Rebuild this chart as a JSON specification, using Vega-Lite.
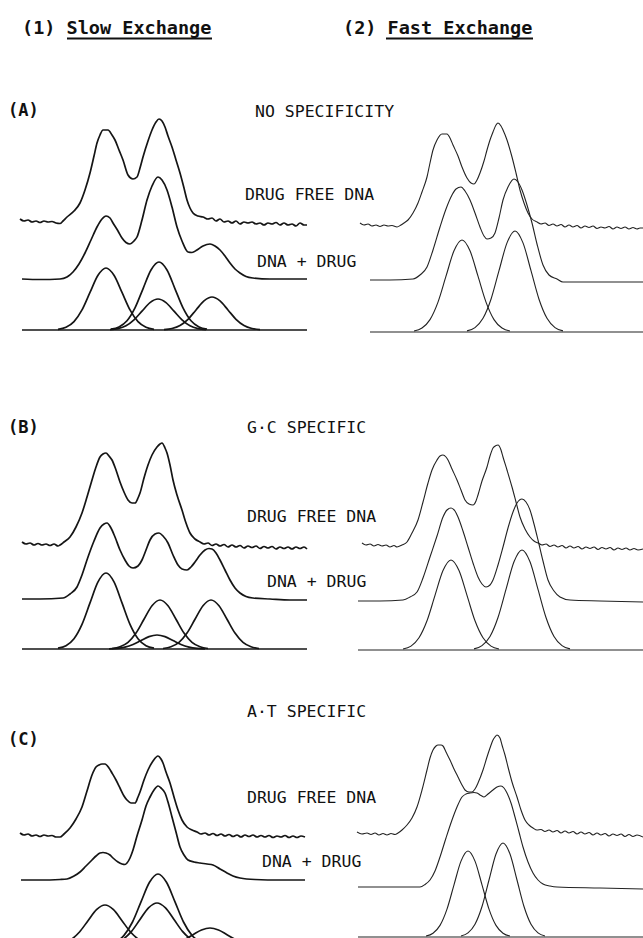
{
"$schema":"https://vega.github.io/schema/vega-lite/v6.json",
"width":643,"height":938,"padding":0,"autosize":{"type":"none"},
"background":"white",
"config":{"view":{"stroke":null}},
"datasets":{
"curves":[
{"curve":"AL1","x":20,"y":219},{"curve":"AL1","x":24,"y":221},{"curve":"AL1","x":28,"y":220},{"curve":"AL1","x":32,"y":222},{"curve":"AL1","x":36,"y":221},{"curve":"AL1","x":40,"y":222.5},{"curve":"AL1","x":44,"y":221},{"curve":"AL1","x":48,"y":222},{"curve":"AL1","x":52,"y":221.5},{"curve":"AL1","x":56,"y":223},{"curve":"AL1","x":60,"y":223.5},{"curve":"AL1","x":63,"y":221},{"curve":"AL1","x":67,"y":217},{"curve":"AL1","x":74,"y":211},{"curve":"AL1","x":80,"y":203},{"curve":"AL1","x":85,"y":190},{"curve":"AL1","x":90,"y":173},{"curve":"AL1","x":94,"y":156},{"curve":"AL1","x":97,"y":143},{"curve":"AL1","x":100,"y":135},{"curve":"AL1","x":103,"y":130},{"curve":"AL1","x":108,"y":130},{"curve":"AL1","x":112,"y":135},{"curve":"AL1","x":115,"y":140},{"curve":"AL1","x":119,"y":150},{"curve":"AL1","x":123,"y":160},{"curve":"AL1","x":128,"y":175},{"curve":"AL1","x":133,"y":179},{"curve":"AL1","x":137,"y":177},{"curve":"AL1","x":140,"y":168},{"curve":"AL1","x":143,"y":157},{"curve":"AL1","x":148,"y":141},{"curve":"AL1","x":152,"y":130},{"curve":"AL1","x":156,"y":122},{"curve":"AL1","x":159,"y":119},{"curve":"AL1","x":162,"y":121},{"curve":"AL1","x":165,"y":127},{"curve":"AL1","x":168,"y":136},{"curve":"AL1","x":172,"y":147},{"curve":"AL1","x":176,"y":160},{"curve":"AL1","x":180,"y":173},{"curve":"AL1","x":184,"y":188},{"curve":"AL1","x":187,"y":200},{"curve":"AL1","x":190,"y":208},{"curve":"AL1","x":193,"y":213},{"curve":"AL1","x":198,"y":216},{"curve":"AL1","x":203,"y":217},{"curve":"AL1","x":208,"y":219},{"curve":"AL1","x":212,"y":218},{"curve":"AL1","x":216,"y":221},{"curve":"AL1","x":220,"y":219},{"curve":"AL1","x":224,"y":222},{"curve":"AL1","x":228,"y":221},{"curve":"AL1","x":232,"y":223},{"curve":"AL1","x":236,"y":221},{"curve":"AL1","x":240,"y":224},{"curve":"AL1","x":244,"y":222},{"curve":"AL1","x":248,"y":223},{"curve":"AL1","x":252,"y":222},{"curve":"AL1","x":256,"y":224},{"curve":"AL1","x":260,"y":223},{"curve":"AL1","x":264,"y":225},{"curve":"AL1","x":268,"y":223},{"curve":"AL1","x":272,"y":224},{"curve":"AL1","x":276,"y":222.5},{"curve":"AL1","x":280,"y":225},{"curve":"AL1","x":284,"y":223},{"curve":"AL1","x":288,"y":225},{"curve":"AL1","x":292,"y":224},{"curve":"AL1","x":296,"y":226},{"curve":"AL1","x":300,"y":223},{"curve":"AL1","x":304,"y":225},{"curve":"AL1","x":307,"y":225},
{"curve":"AL2","x":22,"y":279},{"curve":"AL2","x":40,"y":279.5},{"curve":"AL2","x":60,"y":279},{"curve":"AL2","x":67,"y":277},{"curve":"AL2","x":73,"y":272},{"curve":"AL2","x":79,"y":264},{"curve":"AL2","x":85,"y":253},{"curve":"AL2","x":91,"y":240},{"curve":"AL2","x":97,"y":227},{"curve":"AL2","x":102,"y":219},{"curve":"AL2","x":106,"y":216},{"curve":"AL2","x":110,"y":218},{"curve":"AL2","x":113,"y":223},{"curve":"AL2","x":118,"y":231},{"curve":"AL2","x":122,"y":238},{"curve":"AL2","x":126,"y":242.5},{"curve":"AL2","x":130,"y":244},{"curve":"AL2","x":134,"y":241},{"curve":"AL2","x":137,"y":237},{"curve":"AL2","x":142,"y":220},{"curve":"AL2","x":147,"y":200},{"curve":"AL2","x":152,"y":186},{"curve":"AL2","x":158,"y":177},{"curve":"AL2","x":162,"y":180},{"curve":"AL2","x":167,"y":190},{"curve":"AL2","x":172,"y":207},{"curve":"AL2","x":177,"y":227},{"curve":"AL2","x":182,"y":241},{"curve":"AL2","x":188,"y":252},{"curve":"AL2","x":192,"y":252.5},{"curve":"AL2","x":197,"y":250},{"curve":"AL2","x":203,"y":246},{"curve":"AL2","x":210,"y":244},{"curve":"AL2","x":215,"y":246},{"curve":"AL2","x":220,"y":250},{"curve":"AL2","x":225,"y":256},{"curve":"AL2","x":230,"y":263},{"curve":"AL2","x":235,"y":269},{"curve":"AL2","x":240,"y":273},{"curve":"AL2","x":246,"y":276.5},{"curve":"AL2","x":253,"y":278},{"curve":"AL2","x":270,"y":279},{"curve":"AL2","x":290,"y":279},{"curve":"AL2","x":307,"y":279},
{"curve":"AL0","x":22,"y":330},{"curve":"AL0","x":307,"y":330},
{"curve":"AL3","x":58,"y":329.3},{"curve":"AL3","x":66,"y":327.3},{"curve":"AL3","x":74,"y":321.6},{"curve":"AL3","x":82,"y":309.9},{"curve":"AL3","x":90,"y":292.4},{"curve":"AL3","x":98,"y":275.3},{"curve":"AL3","x":106,"y":268},{"curve":"AL3","x":114,"y":275.3},{"curve":"AL3","x":122,"y":292.4},{"curve":"AL3","x":130,"y":309.9},{"curve":"AL3","x":138,"y":321.6},{"curve":"AL3","x":146,"y":327.3},{"curve":"AL3","x":154,"y":329.3},
{"curve":"AL4","x":111,"y":329.2},{"curve":"AL4","x":119,"y":327},{"curve":"AL4","x":127,"y":320.8},{"curve":"AL4","x":135,"y":307.9},{"curve":"AL4","x":143,"y":288.8},{"curve":"AL4","x":151,"y":270},{"curve":"AL4","x":159,"y":262},{"curve":"AL4","x":167,"y":270},{"curve":"AL4","x":175,"y":288.8},{"curve":"AL4","x":183,"y":307.9},{"curve":"AL4","x":191,"y":320.8},{"curve":"AL4","x":199,"y":327},{"curve":"AL4","x":207,"y":329.2},
{"curve":"AL5","x":110,"y":329.7},{"curve":"AL5","x":118,"y":328.6},{"curve":"AL5","x":126,"y":325.8},{"curve":"AL5","x":134,"y":319.9},{"curve":"AL5","x":142,"y":311.2},{"curve":"AL5","x":150,"y":302.6},{"curve":"AL5","x":158,"y":299},{"curve":"AL5","x":166,"y":302.6},{"curve":"AL5","x":174,"y":311.2},{"curve":"AL5","x":182,"y":319.9},{"curve":"AL5","x":190,"y":325.8},{"curve":"AL5","x":198,"y":328.6},{"curve":"AL5","x":206,"y":329.7},
{"curve":"AL6","x":164,"y":329.6},{"curve":"AL6","x":172,"y":328.5},{"curve":"AL6","x":180,"y":325.5},{"curve":"AL6","x":188,"y":319.3},{"curve":"AL6","x":196,"y":310},{"curve":"AL6","x":204,"y":300.9},{"curve":"AL6","x":212,"y":297},{"curve":"AL6","x":220,"y":300.9},{"curve":"AL6","x":228,"y":310},{"curve":"AL6","x":236,"y":319.3},{"curve":"AL6","x":244,"y":325.5},{"curve":"AL6","x":252,"y":328.5},{"curve":"AL6","x":260,"y":329.6},
{"curve":"AR1","x":360,"y":223},{"curve":"AR1","x":364,"y":225},{"curve":"AR1","x":368,"y":224},{"curve":"AR1","x":372,"y":226},{"curve":"AR1","x":376,"y":225},{"curve":"AR1","x":380,"y":226.5},{"curve":"AR1","x":384,"y":225},{"curve":"AR1","x":388,"y":226},{"curve":"AR1","x":392,"y":225.5},{"curve":"AR1","x":397,"y":227},{"curve":"AR1","x":401,"y":225},{"curve":"AR1","x":404,"y":223},{"curve":"AR1","x":408,"y":220},{"curve":"AR1","x":413,"y":213},{"curve":"AR1","x":418,"y":203},{"curve":"AR1","x":422,"y":192},{"curve":"AR1","x":427,"y":177},{"curve":"AR1","x":430,"y":163},{"curve":"AR1","x":433,"y":150},{"curve":"AR1","x":437,"y":140},{"curve":"AR1","x":442,"y":134},{"curve":"AR1","x":447,"y":134},{"curve":"AR1","x":450,"y":138},{"curve":"AR1","x":453,"y":145},{"curve":"AR1","x":458,"y":156},{"curve":"AR1","x":462,"y":167},{"curve":"AR1","x":467,"y":178},{"curve":"AR1","x":471,"y":183},{"curve":"AR1","x":474,"y":184},{"curve":"AR1","x":477,"y":180},{"curve":"AR1","x":480,"y":173},{"curve":"AR1","x":484,"y":161},{"curve":"AR1","x":487,"y":150},{"curve":"AR1","x":490,"y":140},{"curve":"AR1","x":493,"y":132},{"curve":"AR1","x":496,"y":125},{"curve":"AR1","x":498,"y":123},{"curve":"AR1","x":501,"y":126},{"curve":"AR1","x":503,"y":130},{"curve":"AR1","x":507,"y":140},{"curve":"AR1","x":512,"y":157},{"curve":"AR1","x":516,"y":173},{"curve":"AR1","x":520,"y":190},{"curve":"AR1","x":524,"y":203},{"curve":"AR1","x":528,"y":213},{"curve":"AR1","x":532,"y":219},{"curve":"AR1","x":537,"y":222},{"curve":"AR1","x":541,"y":224},{"curve":"AR1","x":545,"y":223},{"curve":"AR1","x":549,"y":225.5},{"curve":"AR1","x":553,"y":224},{"curve":"AR1","x":557,"y":226},{"curve":"AR1","x":561,"y":224.5},{"curve":"AR1","x":565,"y":227},{"curve":"AR1","x":569,"y":225},{"curve":"AR1","x":573,"y":227},{"curve":"AR1","x":577,"y":225.5},{"curve":"AR1","x":581,"y":228},{"curve":"AR1","x":585,"y":226},{"curve":"AR1","x":589,"y":227.5},{"curve":"AR1","x":593,"y":226},{"curve":"AR1","x":597,"y":228.5},{"curve":"AR1","x":601,"y":227},{"curve":"AR1","x":605,"y":228},{"curve":"AR1","x":609,"y":226.5},{"curve":"AR1","x":613,"y":229},{"curve":"AR1","x":617,"y":227},{"curve":"AR1","x":621,"y":228.5},{"curve":"AR1","x":625,"y":227},{"curve":"AR1","x":629,"y":229},{"curve":"AR1","x":633,"y":227.5},{"curve":"AR1","x":637,"y":229},{"curve":"AR1","x":640,"y":228},{"curve":"AR1","x":643,"y":228},
{"curve":"AR2","x":370,"y":280},{"curve":"AR2","x":390,"y":280},{"curve":"AR2","x":413,"y":279},{"curve":"AR2","x":420,"y":275},{"curve":"AR2","x":427,"y":267},{"curve":"AR2","x":433,"y":250},{"curve":"AR2","x":440,"y":227},{"curve":"AR2","x":446,"y":209},{"curve":"AR2","x":452,"y":195},{"curve":"AR2","x":456,"y":189},{"curve":"AR2","x":461,"y":187},{"curve":"AR2","x":465,"y":191},{"curve":"AR2","x":470,"y":200},{"curve":"AR2","x":475,"y":213},{"curve":"AR2","x":480,"y":227},{"curve":"AR2","x":484,"y":236},{"curve":"AR2","x":487,"y":239},{"curve":"AR2","x":491,"y":238},{"curve":"AR2","x":495,"y":233},{"curve":"AR2","x":499,"y":218},{"curve":"AR2","x":503,"y":200},{"curve":"AR2","x":508,"y":187},{"curve":"AR2","x":514,"y":179},{"curve":"AR2","x":518,"y":182},{"curve":"AR2","x":522,"y":190},{"curve":"AR2","x":527,"y":205},{"curve":"AR2","x":532,"y":223},{"curve":"AR2","x":537,"y":244},{"curve":"AR2","x":543,"y":265},{"curve":"AR2","x":549,"y":275},{"curve":"AR2","x":557,"y":279},{"curve":"AR2","x":563,"y":282},{"curve":"AR2","x":600,"y":282},{"curve":"AR2","x":643,"y":282},
{"curve":"AR0","x":370,"y":332},{"curve":"AR0","x":643,"y":332},
{"curve":"AR3","x":414,"y":331},{"curve":"AR3","x":422,"y":328},{"curve":"AR3","x":430,"y":319.6},{"curve":"AR3","x":438,"y":302.1},{"curve":"AR3","x":446,"y":276.2},{"curve":"AR3","x":454,"y":250.8},{"curve":"AR3","x":462,"y":240},{"curve":"AR3","x":470,"y":250.8},{"curve":"AR3","x":478,"y":276.2},{"curve":"AR3","x":486,"y":302.1},{"curve":"AR3","x":494,"y":319.6},{"curve":"AR3","x":502,"y":328},{"curve":"AR3","x":510,"y":331},
{"curve":"AR4","x":467,"y":330.9},{"curve":"AR4","x":475,"y":327.6},{"curve":"AR4","x":483,"y":318.3},{"curve":"AR4","x":491,"y":299.2},{"curve":"AR4","x":499,"y":270.7},{"curve":"AR4","x":507,"y":242.9},{"curve":"AR4","x":515,"y":231},{"curve":"AR4","x":523,"y":242.9},{"curve":"AR4","x":531,"y":270.7},{"curve":"AR4","x":539,"y":299.2},{"curve":"AR4","x":547,"y":318.3},{"curve":"AR4","x":555,"y":327.6},{"curve":"AR4","x":563,"y":330.9},
{"curve":"BL1","x":22,"y":542},{"curve":"BL1","x":26,"y":544},{"curve":"BL1","x":30,"y":543},{"curve":"BL1","x":34,"y":545},{"curve":"BL1","x":38,"y":543.5},{"curve":"BL1","x":42,"y":545},{"curve":"BL1","x":46,"y":544},{"curve":"BL1","x":50,"y":545.5},{"curve":"BL1","x":54,"y":544},{"curve":"BL1","x":58,"y":546},{"curve":"BL1","x":60,"y":545},{"curve":"BL1","x":64,"y":542},{"curve":"BL1","x":70,"y":537},{"curve":"BL1","x":76,"y":527},{"curve":"BL1","x":82,"y":513},{"curve":"BL1","x":87,"y":497},{"curve":"BL1","x":92,"y":480},{"curve":"BL1","x":96,"y":467},{"curve":"BL1","x":100,"y":457},{"curve":"BL1","x":103,"y":454},{"curve":"BL1","x":106,"y":453},{"curve":"BL1","x":109,"y":456},{"curve":"BL1","x":112,"y":460},{"curve":"BL1","x":116,"y":470},{"curve":"BL1","x":120,"y":482},{"curve":"BL1","x":124,"y":492},{"curve":"BL1","x":128,"y":500},{"curve":"BL1","x":132,"y":503},{"curve":"BL1","x":135,"y":503},{"curve":"BL1","x":138,"y":498},{"curve":"BL1","x":140,"y":493},{"curve":"BL1","x":144,"y":478},{"curve":"BL1","x":148,"y":465},{"curve":"BL1","x":152,"y":455},{"curve":"BL1","x":157,"y":447},{"curve":"BL1","x":160,"y":444},{"curve":"BL1","x":162,"y":443},{"curve":"BL1","x":165,"y":448},{"curve":"BL1","x":167,"y":453},{"curve":"BL1","x":170,"y":465},{"curve":"BL1","x":173,"y":480},{"curve":"BL1","x":177,"y":495},{"curve":"BL1","x":182,"y":510},{"curve":"BL1","x":186,"y":523},{"curve":"BL1","x":190,"y":533},{"curve":"BL1","x":195,"y":539},{"curve":"BL1","x":200,"y":542},{"curve":"BL1","x":204,"y":544},{"curve":"BL1","x":208,"y":543},{"curve":"BL1","x":212,"y":545.5},{"curve":"BL1","x":216,"y":544},{"curve":"BL1","x":220,"y":546},{"curve":"BL1","x":224,"y":544.5},{"curve":"BL1","x":228,"y":547},{"curve":"BL1","x":232,"y":545},{"curve":"BL1","x":236,"y":547},{"curve":"BL1","x":240,"y":545.5},{"curve":"BL1","x":244,"y":548},{"curve":"BL1","x":248,"y":546},{"curve":"BL1","x":252,"y":547.5},{"curve":"BL1","x":256,"y":546},{"curve":"BL1","x":260,"y":548.5},{"curve":"BL1","x":264,"y":546.5},{"curve":"BL1","x":268,"y":548},{"curve":"BL1","x":272,"y":546.5},{"curve":"BL1","x":276,"y":549},{"curve":"BL1","x":280,"y":547},{"curve":"BL1","x":284,"y":548.5},{"curve":"BL1","x":288,"y":547},{"curve":"BL1","x":292,"y":549},{"curve":"BL1","x":296,"y":547},{"curve":"BL1","x":300,"y":548.5},{"curve":"BL1","x":304,"y":547},{"curve":"BL1","x":307,"y":549},
{"curve":"BL2","x":22,"y":599},{"curve":"BL2","x":40,"y":599},{"curve":"BL2","x":63,"y":598},{"curve":"BL2","x":70,"y":594},{"curve":"BL2","x":77,"y":587},{"curve":"BL2","x":82,"y":575},{"curve":"BL2","x":88,"y":557},{"curve":"BL2","x":94,"y":541},{"curve":"BL2","x":100,"y":528},{"curve":"BL2","x":104,"y":524},{"curve":"BL2","x":107,"y":523},{"curve":"BL2","x":111,"y":528},{"curve":"BL2","x":115,"y":537},{"curve":"BL2","x":120,"y":550},{"curve":"BL2","x":125,"y":560},{"curve":"BL2","x":129,"y":566},{"curve":"BL2","x":133,"y":568},{"curve":"BL2","x":138,"y":566},{"curve":"BL2","x":142,"y":560},{"curve":"BL2","x":146,"y":550},{"curve":"BL2","x":150,"y":540},{"curve":"BL2","x":155,"y":534},{"curve":"BL2","x":159,"y":533},{"curve":"BL2","x":163,"y":536},{"curve":"BL2","x":168,"y":543},{"curve":"BL2","x":173,"y":555},{"curve":"BL2","x":178,"y":565},{"curve":"BL2","x":182,"y":569},{"curve":"BL2","x":187,"y":570},{"curve":"BL2","x":191,"y":567},{"curve":"BL2","x":195,"y":562},{"curve":"BL2","x":200,"y":555},{"curve":"BL2","x":205,"y":550},{"curve":"BL2","x":209,"y":548.5},{"curve":"BL2","x":212,"y":549},{"curve":"BL2","x":216,"y":553},{"curve":"BL2","x":220,"y":560},{"curve":"BL2","x":225,"y":570},{"curve":"BL2","x":230,"y":580},{"curve":"BL2","x":235,"y":588},{"curve":"BL2","x":240,"y":593},{"curve":"BL2","x":246,"y":596.5},{"curve":"BL2","x":253,"y":598},{"curve":"BL2","x":270,"y":599},{"curve":"BL2","x":290,"y":600},{"curve":"BL2","x":307,"y":600},
{"curve":"BL0","x":22,"y":649},{"curve":"BL0","x":307,"y":649},
{"curve":"BL3","x":58,"y":648.2},{"curve":"BL3","x":66,"y":645.7},{"curve":"BL3","x":74,"y":638.7},{"curve":"BL3","x":82,"y":624.3},{"curve":"BL3","x":90,"y":602.9},{"curve":"BL3","x":98,"y":581.9},{"curve":"BL3","x":106,"y":573},{"curve":"BL3","x":114,"y":581.9},{"curve":"BL3","x":122,"y":602.9},{"curve":"BL3","x":130,"y":624.3},{"curve":"BL3","x":138,"y":638.7},{"curve":"BL3","x":146,"y":645.7},{"curve":"BL3","x":154,"y":648.2},
{"curve":"BL4","x":112,"y":648.5},{"curve":"BL4","x":120,"y":646.8},{"curve":"BL4","x":128,"y":642.4},{"curve":"BL4","x":136,"y":633.1},{"curve":"BL4","x":144,"y":619.3},{"curve":"BL4","x":152,"y":605.8},{"curve":"BL4","x":160,"y":600},{"curve":"BL4","x":168,"y":605.8},{"curve":"BL4","x":176,"y":619.3},{"curve":"BL4","x":184,"y":633.1},{"curve":"BL4","x":192,"y":642.4},{"curve":"BL4","x":200,"y":646.8},{"curve":"BL4","x":208,"y":648.5},
{"curve":"BL5","x":109,"y":648.8},{"curve":"BL5","x":117,"y":648.4},{"curve":"BL5","x":125,"y":647.1},{"curve":"BL5","x":133,"y":644.5},{"curve":"BL5","x":141,"y":640.5},{"curve":"BL5","x":149,"y":636.6},{"curve":"BL5","x":157,"y":635},{"curve":"BL5","x":165,"y":636.6},{"curve":"BL5","x":173,"y":640.5},{"curve":"BL5","x":181,"y":644.5},{"curve":"BL5","x":189,"y":647.1},{"curve":"BL5","x":197,"y":648.4},{"curve":"BL5","x":205,"y":648.8},
{"curve":"BL6","x":163,"y":648.5},{"curve":"BL6","x":171,"y":646.8},{"curve":"BL6","x":179,"y":642.4},{"curve":"BL6","x":187,"y":633.1},{"curve":"BL6","x":195,"y":619.3},{"curve":"BL6","x":203,"y":605.8},{"curve":"BL6","x":211,"y":600},{"curve":"BL6","x":219,"y":605.8},{"curve":"BL6","x":227,"y":619.3},{"curve":"BL6","x":235,"y":633.1},{"curve":"BL6","x":243,"y":642.4},{"curve":"BL6","x":251,"y":646.8},{"curve":"BL6","x":259,"y":648.5},
{"curve":"BR1","x":362,"y":543},{"curve":"BR1","x":366,"y":545},{"curve":"BR1","x":370,"y":544},{"curve":"BR1","x":374,"y":546},{"curve":"BR1","x":378,"y":544.5},{"curve":"BR1","x":382,"y":546},{"curve":"BR1","x":386,"y":545},{"curve":"BR1","x":390,"y":547},{"curve":"BR1","x":394,"y":545.5},{"curve":"BR1","x":397,"y":547},{"curve":"BR1","x":402,"y":545},{"curve":"BR1","x":407,"y":542},{"curve":"BR1","x":412,"y":533},{"curve":"BR1","x":418,"y":520},{"curve":"BR1","x":423,"y":502},{"curve":"BR1","x":428,"y":483},{"curve":"BR1","x":432,"y":470},{"curve":"BR1","x":437,"y":460},{"curve":"BR1","x":440,"y":456},{"curve":"BR1","x":443,"y":455},{"curve":"BR1","x":446,"y":457},{"curve":"BR1","x":448,"y":460},{"curve":"BR1","x":452,"y":469},{"curve":"BR1","x":457,"y":480},{"curve":"BR1","x":461,"y":490},{"curve":"BR1","x":465,"y":500},{"curve":"BR1","x":469,"y":504},{"curve":"BR1","x":473,"y":505},{"curve":"BR1","x":476,"y":501},{"curve":"BR1","x":478,"y":495},{"curve":"BR1","x":482,"y":481},{"curve":"BR1","x":487,"y":467},{"curve":"BR1","x":490,"y":456},{"curve":"BR1","x":493,"y":448},{"curve":"BR1","x":496,"y":445.5},{"curve":"BR1","x":498,"y":445},{"curve":"BR1","x":501,"y":450},{"curve":"BR1","x":503,"y":457},{"curve":"BR1","x":507,"y":470},{"curve":"BR1","x":512,"y":487},{"curve":"BR1","x":516,"y":502},{"curve":"BR1","x":520,"y":517},{"curve":"BR1","x":525,"y":529},{"curve":"BR1","x":530,"y":537},{"curve":"BR1","x":534,"y":541},{"curve":"BR1","x":538,"y":543},{"curve":"BR1","x":542,"y":545},{"curve":"BR1","x":546,"y":544},{"curve":"BR1","x":550,"y":546.5},{"curve":"BR1","x":554,"y":545},{"curve":"BR1","x":558,"y":547},{"curve":"BR1","x":562,"y":545.5},{"curve":"BR1","x":566,"y":548},{"curve":"BR1","x":570,"y":546},{"curve":"BR1","x":574,"y":548},{"curve":"BR1","x":578,"y":546.5},{"curve":"BR1","x":582,"y":549},{"curve":"BR1","x":586,"y":547},{"curve":"BR1","x":590,"y":548.5},{"curve":"BR1","x":594,"y":547},{"curve":"BR1","x":598,"y":549.5},{"curve":"BR1","x":602,"y":547.5},{"curve":"BR1","x":606,"y":549},{"curve":"BR1","x":610,"y":547.5},{"curve":"BR1","x":614,"y":550},{"curve":"BR1","x":618,"y":548},{"curve":"BR1","x":622,"y":549.5},{"curve":"BR1","x":626,"y":548},{"curve":"BR1","x":630,"y":550},{"curve":"BR1","x":634,"y":548.5},{"curve":"BR1","x":638,"y":550},{"curve":"BR1","x":643,"y":549},
{"curve":"BR2","x":358,"y":601},{"curve":"BR2","x":380,"y":601},{"curve":"BR2","x":403,"y":600},{"curve":"BR2","x":410,"y":597},{"curve":"BR2","x":417,"y":592},{"curve":"BR2","x":423,"y":578},{"curve":"BR2","x":430,"y":557},{"curve":"BR2","x":437,"y":536},{"curve":"BR2","x":443,"y":517},{"curve":"BR2","x":447,"y":510},{"curve":"BR2","x":451,"y":508},{"curve":"BR2","x":455,"y":511},{"curve":"BR2","x":458,"y":517},{"curve":"BR2","x":463,"y":531},{"curve":"BR2","x":468,"y":547},{"curve":"BR2","x":473,"y":563},{"curve":"BR2","x":478,"y":577},{"curve":"BR2","x":482,"y":584},{"curve":"BR2","x":486,"y":587},{"curve":"BR2","x":490,"y":585},{"curve":"BR2","x":493,"y":580},{"curve":"BR2","x":498,"y":565},{"curve":"BR2","x":503,"y":547},{"curve":"BR2","x":508,"y":528},{"curve":"BR2","x":513,"y":512},{"curve":"BR2","x":517,"y":503},{"curve":"BR2","x":522,"y":499},{"curve":"BR2","x":526,"y":502},{"curve":"BR2","x":530,"y":510},{"curve":"BR2","x":534,"y":524},{"curve":"BR2","x":538,"y":540},{"curve":"BR2","x":543,"y":561},{"curve":"BR2","x":548,"y":580},{"curve":"BR2","x":554,"y":591},{"curve":"BR2","x":560,"y":597},{"curve":"BR2","x":570,"y":600},{"curve":"BR2","x":600,"y":601},{"curve":"BR2","x":643,"y":602},
{"curve":"BR0","x":358,"y":650},{"curve":"BR0","x":643,"y":650},
{"curve":"BR3","x":403,"y":649},{"curve":"BR3","x":411,"y":646.1},{"curve":"BR3","x":419,"y":637.8},{"curve":"BR3","x":427,"y":620.8},{"curve":"BR3","x":435,"y":595.4},{"curve":"BR3","x":443,"y":570.6},{"curve":"BR3","x":451,"y":560},{"curve":"BR3","x":459,"y":570.6},{"curve":"BR3","x":467,"y":595.4},{"curve":"BR3","x":475,"y":620.8},{"curve":"BR3","x":483,"y":637.8},{"curve":"BR3","x":491,"y":646.1},{"curve":"BR3","x":499,"y":649},
{"curve":"BR4","x":474,"y":648.9},{"curve":"BR4","x":482,"y":645.6},{"curve":"BR4","x":490,"y":636.5},{"curve":"BR4","x":498,"y":617.5},{"curve":"BR4","x":506,"y":589.4},{"curve":"BR4","x":514,"y":561.8},{"curve":"BR4","x":522,"y":550},{"curve":"BR4","x":530,"y":561.8},{"curve":"BR4","x":538,"y":589.4},{"curve":"BR4","x":546,"y":617.5},{"curve":"BR4","x":554,"y":636.5},{"curve":"BR4","x":562,"y":645.6},{"curve":"BR4","x":570,"y":648.9},
{"curve":"CL1","x":20,"y":833},{"curve":"CL1","x":24,"y":835},{"curve":"CL1","x":28,"y":834},{"curve":"CL1","x":32,"y":836},{"curve":"CL1","x":36,"y":835},{"curve":"CL1","x":40,"y":836.5},{"curve":"CL1","x":44,"y":835},{"curve":"CL1","x":48,"y":836},{"curve":"CL1","x":52,"y":835.5},{"curve":"CL1","x":56,"y":837},{"curve":"CL1","x":60,"y":837},{"curve":"CL1","x":64,"y":834},{"curve":"CL1","x":70,"y":828},{"curve":"CL1","x":76,"y":819},{"curve":"CL1","x":82,"y":807},{"curve":"CL1","x":87,"y":791},{"curve":"CL1","x":92,"y":775},{"curve":"CL1","x":96,"y":767},{"curve":"CL1","x":99,"y":765},{"curve":"CL1","x":102,"y":764},{"curve":"CL1","x":105,"y":764},{"curve":"CL1","x":109,"y":768},{"curve":"CL1","x":112,"y":773},{"curve":"CL1","x":116,"y":780},{"curve":"CL1","x":120,"y":788},{"curve":"CL1","x":124,"y":796},{"curve":"CL1","x":127,"y":800},{"curve":"CL1","x":131,"y":803},{"curve":"CL1","x":135,"y":803},{"curve":"CL1","x":138,"y":797},{"curve":"CL1","x":140,"y":792},{"curve":"CL1","x":144,"y":780},{"curve":"CL1","x":148,"y":770},{"curve":"CL1","x":153,"y":761},{"curve":"CL1","x":158,"y":756},{"curve":"CL1","x":161,"y":759},{"curve":"CL1","x":163,"y":763},{"curve":"CL1","x":166,"y":772},{"curve":"CL1","x":170,"y":783},{"curve":"CL1","x":174,"y":797},{"curve":"CL1","x":178,"y":810},{"curve":"CL1","x":182,"y":820},{"curve":"CL1","x":187,"y":827},{"curve":"CL1","x":192,"y":830},{"curve":"CL1","x":197,"y":832},{"curve":"CL1","x":201,"y":834},{"curve":"CL1","x":205,"y":833},{"curve":"CL1","x":209,"y":835},{"curve":"CL1","x":213,"y":833.5},{"curve":"CL1","x":217,"y":835.5},{"curve":"CL1","x":221,"y":834},{"curve":"CL1","x":225,"y":836},{"curve":"CL1","x":229,"y":834.5},{"curve":"CL1","x":233,"y":836.5},{"curve":"CL1","x":237,"y":835},{"curve":"CL1","x":241,"y":837},{"curve":"CL1","x":245,"y":835},{"curve":"CL1","x":249,"y":836.5},{"curve":"CL1","x":253,"y":835},{"curve":"CL1","x":257,"y":837},{"curve":"CL1","x":261,"y":835.5},{"curve":"CL1","x":265,"y":837},{"curve":"CL1","x":269,"y":835.5},{"curve":"CL1","x":273,"y":837.5},{"curve":"CL1","x":277,"y":836},{"curve":"CL1","x":281,"y":837},{"curve":"CL1","x":285,"y":835.5},{"curve":"CL1","x":289,"y":837.5},{"curve":"CL1","x":293,"y":836},{"curve":"CL1","x":297,"y":837.5},{"curve":"CL1","x":301,"y":836},{"curve":"CL1","x":305,"y":837},
{"curve":"CL2","x":21,"y":880},{"curve":"CL2","x":40,"y":880},{"curve":"CL2","x":60,"y":879.5},{"curve":"CL2","x":67,"y":879},{"curve":"CL2","x":74,"y":876},{"curve":"CL2","x":80,"y":872},{"curve":"CL2","x":86,"y":866},{"curve":"CL2","x":92,"y":860},{"curve":"CL2","x":96,"y":856},{"curve":"CL2","x":100,"y":853},{"curve":"CL2","x":103,"y":852.5},{"curve":"CL2","x":106,"y":853},{"curve":"CL2","x":110,"y":855},{"curve":"CL2","x":113,"y":858},{"curve":"CL2","x":118,"y":862},{"curve":"CL2","x":122,"y":864},{"curve":"CL2","x":125,"y":864.5},{"curve":"CL2","x":127,"y":863},{"curve":"CL2","x":130,"y":858},{"curve":"CL2","x":133,"y":850},{"curve":"CL2","x":137,"y":836},{"curve":"CL2","x":142,"y":820},{"curve":"CL2","x":146,"y":806},{"curve":"CL2","x":150,"y":797},{"curve":"CL2","x":154,"y":790},{"curve":"CL2","x":158,"y":786},{"curve":"CL2","x":161,"y":788},{"curve":"CL2","x":165,"y":793},{"curve":"CL2","x":168,"y":802},{"curve":"CL2","x":172,"y":817},{"curve":"CL2","x":176,"y":832},{"curve":"CL2","x":180,"y":847},{"curve":"CL2","x":184,"y":855},{"curve":"CL2","x":188,"y":860},{"curve":"CL2","x":194,"y":862},{"curve":"CL2","x":200,"y":863},{"curve":"CL2","x":207,"y":864},{"curve":"CL2","x":213,"y":865},{"curve":"CL2","x":220,"y":869},{"curve":"CL2","x":227,"y":873},{"curve":"CL2","x":233,"y":876},{"curve":"CL2","x":240,"y":878},{"curve":"CL2","x":255,"y":879.5},{"curve":"CL2","x":280,"y":880},{"curve":"CL2","x":305,"y":880},
{"curve":"CL3","x":54,"y":944.6},{"curve":"CL3","x":62.5,"y":943.2},{"curve":"CL3","x":71,"y":939.6},{"curve":"CL3","x":79.5,"y":932},{"curve":"CL3","x":88,"y":920.7},{"curve":"CL3","x":96.5,"y":909.7},{"curve":"CL3","x":105,"y":905},{"curve":"CL3","x":113.5,"y":909.7},{"curve":"CL3","x":122,"y":920.7},{"curve":"CL3","x":130.5,"y":932},{"curve":"CL3","x":139,"y":939.6},{"curve":"CL3","x":147.5,"y":943.2},{"curve":"CL3","x":156,"y":944.6},
{"curve":"CL4","x":107,"y":944.2},{"curve":"CL4","x":115.5,"y":941.9},{"curve":"CL4","x":124,"y":935.4},{"curve":"CL4","x":132.5,"y":922},{"curve":"CL4","x":141,"y":901.9},{"curve":"CL4","x":149.5,"y":882.3},{"curve":"CL4","x":158,"y":874},{"curve":"CL4","x":166.5,"y":882.3},{"curve":"CL4","x":175,"y":901.9},{"curve":"CL4","x":183.5,"y":922},{"curve":"CL4","x":192,"y":935.4},{"curve":"CL4","x":200.5,"y":941.9},{"curve":"CL4","x":209,"y":944.2},
{"curve":"CL5","x":106,"y":944.5},{"curve":"CL5","x":114.5,"y":943.2},{"curve":"CL5","x":123,"y":939.3},{"curve":"CL5","x":131.5,"y":931.4},{"curve":"CL5","x":140,"y":919.5},{"curve":"CL5","x":148.5,"y":907.9},{"curve":"CL5","x":157,"y":903},{"curve":"CL5","x":165.5,"y":907.9},{"curve":"CL5","x":174,"y":919.5},{"curve":"CL5","x":182.5,"y":931.4},{"curve":"CL5","x":191,"y":939.3},{"curve":"CL5","x":199.5,"y":943.2},{"curve":"CL5","x":208,"y":944.5},
{"curve":"CL6","x":159,"y":944.8},{"curve":"CL6","x":167.5,"y":944.3},{"curve":"CL6","x":176,"y":942.7},{"curve":"CL6","x":184.5,"y":939.5},{"curve":"CL6","x":193,"y":934.7},{"curve":"CL6","x":201.5,"y":930},{"curve":"CL6","x":210,"y":928},{"curve":"CL6","x":218.5,"y":930},{"curve":"CL6","x":227,"y":934.7},{"curve":"CL6","x":235.5,"y":939.5},{"curve":"CL6","x":244,"y":942.7},{"curve":"CL6","x":252.5,"y":944.3},{"curve":"CL6","x":261,"y":944.8},
{"curve":"CR1","x":357,"y":832},{"curve":"CR1","x":362,"y":834},{"curve":"CR1","x":367,"y":833},{"curve":"CR1","x":371,"y":834.5},{"curve":"CR1","x":375,"y":833},{"curve":"CR1","x":379,"y":835},{"curve":"CR1","x":383,"y":833.5},{"curve":"CR1","x":387,"y":835},{"curve":"CR1","x":391,"y":833.5},{"curve":"CR1","x":395,"y":834.5},{"curve":"CR1","x":398,"y":833},{"curve":"CR1","x":402,"y":830},{"curve":"CR1","x":407,"y":825},{"curve":"CR1","x":412,"y":818},{"curve":"CR1","x":417,"y":807},{"curve":"CR1","x":422,"y":790},{"curve":"CR1","x":427,"y":770},{"curve":"CR1","x":430,"y":758},{"curve":"CR1","x":433,"y":750},{"curve":"CR1","x":436,"y":746},{"curve":"CR1","x":438,"y":745},{"curve":"CR1","x":441,"y":745},{"curve":"CR1","x":443,"y":746},{"curve":"CR1","x":446,"y":752},{"curve":"CR1","x":450,"y":760},{"curve":"CR1","x":454,"y":769},{"curve":"CR1","x":458,"y":777},{"curve":"CR1","x":462,"y":785},{"curve":"CR1","x":465,"y":790},{"curve":"CR1","x":469,"y":792},{"curve":"CR1","x":472,"y":792},{"curve":"CR1","x":475,"y":789},{"curve":"CR1","x":478,"y":783},{"curve":"CR1","x":483,"y":770},{"curve":"CR1","x":487,"y":757},{"curve":"CR1","x":490,"y":748},{"curve":"CR1","x":493,"y":740},{"curve":"CR1","x":495,"y":737},{"curve":"CR1","x":497,"y":735},{"curve":"CR1","x":500,"y":738},{"curve":"CR1","x":502,"y":745},{"curve":"CR1","x":505,"y":755},{"curve":"CR1","x":508,"y":767},{"curve":"CR1","x":512,"y":782},{"curve":"CR1","x":517,"y":797},{"curve":"CR1","x":521,"y":810},{"curve":"CR1","x":525,"y":820},{"curve":"CR1","x":529,"y":825},{"curve":"CR1","x":533,"y":828},{"curve":"CR1","x":537,"y":830},{"curve":"CR1","x":541,"y":829.5},{"curve":"CR1","x":545,"y":831.5},{"curve":"CR1","x":549,"y":830},{"curve":"CR1","x":553,"y":832},{"curve":"CR1","x":557,"y":830.5},{"curve":"CR1","x":561,"y":833},{"curve":"CR1","x":565,"y":831},{"curve":"CR1","x":569,"y":833},{"curve":"CR1","x":573,"y":831.5},{"curve":"CR1","x":577,"y":834},{"curve":"CR1","x":581,"y":832},{"curve":"CR1","x":585,"y":834},{"curve":"CR1","x":589,"y":832.5},{"curve":"CR1","x":593,"y":835},{"curve":"CR1","x":597,"y":833},{"curve":"CR1","x":601,"y":835},{"curve":"CR1","x":605,"y":833.5},{"curve":"CR1","x":609,"y":836},{"curve":"CR1","x":613,"y":834},{"curve":"CR1","x":617,"y":835.5},{"curve":"CR1","x":621,"y":834},{"curve":"CR1","x":625,"y":836.5},{"curve":"CR1","x":629,"y":834.5},{"curve":"CR1","x":633,"y":836.5},{"curve":"CR1","x":637,"y":835},{"curve":"CR1","x":643,"y":837},
{"curve":"CR2","x":358,"y":887},{"curve":"CR2","x":400,"y":887},{"curve":"CR2","x":420,"y":887},{"curve":"CR2","x":425,"y":884.5},{"curve":"CR2","x":430,"y":880},{"curve":"CR2","x":435,"y":871},{"curve":"CR2","x":440,"y":857},{"curve":"CR2","x":446,"y":838},{"curve":"CR2","x":452,"y":820},{"curve":"CR2","x":457,"y":807},{"curve":"CR2","x":462,"y":797},{"curve":"CR2","x":466,"y":794},{"curve":"CR2","x":470,"y":793},{"curve":"CR2","x":474,"y":792.5},{"curve":"CR2","x":477,"y":793},{"curve":"CR2","x":481,"y":795.5},{"curve":"CR2","x":484,"y":797},{"curve":"CR2","x":488,"y":794},{"curve":"CR2","x":493,"y":790},{"curve":"CR2","x":497,"y":787},{"curve":"CR2","x":501,"y":786},{"curve":"CR2","x":504,"y":788},{"curve":"CR2","x":507,"y":793},{"curve":"CR2","x":511,"y":803},{"curve":"CR2","x":515,"y":817},{"curve":"CR2","x":519,"y":832},{"curve":"CR2","x":523,"y":847},{"curve":"CR2","x":528,"y":862},{"curve":"CR2","x":533,"y":873},{"curve":"CR2","x":538,"y":880},{"curve":"CR2","x":543,"y":884},{"curve":"CR2","x":550,"y":886},{"curve":"CR2","x":557,"y":887},{"curve":"CR2","x":600,"y":888},{"curve":"CR2","x":643,"y":889},
{"curve":"CR0","x":358,"y":937},{"curve":"CR0","x":643,"y":937},
{"curve":"CR3","x":426,"y":936},{"curve":"CR3","x":433,"y":933.2},{"curve":"CR3","x":440,"y":925.4},{"curve":"CR3","x":447,"y":909.1},{"curve":"CR3","x":454,"y":884.8},{"curve":"CR3","x":461,"y":861.1},{"curve":"CR3","x":468,"y":851},{"curve":"CR3","x":475,"y":861.1},{"curve":"CR3","x":482,"y":884.8},{"curve":"CR3","x":489,"y":909.1},{"curve":"CR3","x":496,"y":925.4},{"curve":"CR3","x":503,"y":933.2},{"curve":"CR3","x":510,"y":936},
{"curve":"CR4","x":461,"y":936},{"curve":"CR4","x":468,"y":932.9},{"curve":"CR4","x":475,"y":924.3},{"curve":"CR4","x":482,"y":906.5},{"curve":"CR4","x":489,"y":880},{"curve":"CR4","x":496,"y":854},{"curve":"CR4","x":503,"y":843},{"curve":"CR4","x":510,"y":854},{"curve":"CR4","x":517,"y":880},{"curve":"CR4","x":524,"y":906.5},{"curve":"CR4","x":531,"y":924.3},{"curve":"CR4","x":538,"y":932.9},{"curve":"CR4","x":545,"y":936}
],
"labels":[
{"kind":"title","text":"(1) Slow Exchange","x":22,"y":33.5},
{"kind":"title","text":"(2) Fast Exchange","x":343,"y":33.5},
{"kind":"panel","text":"(A)","x":8,"y":116},
{"kind":"panel","text":"(B)","x":8,"y":433},
{"kind":"panel","text":"(C)","x":8,"y":745},
{"kind":"label","text":"NO SPECIFICITY","x":255,"y":116.5},
{"kind":"label","text":"DRUG FREE DNA","x":245,"y":200},
{"kind":"label","text":"DNA + DRUG","x":257,"y":266.5},
{"kind":"label","text":"G·C SPECIFIC","x":247,"y":433},
{"kind":"label","text":"DRUG FREE DNA","x":247,"y":521.5},
{"kind":"label","text":"DNA + DRUG","x":267,"y":586.5},
{"kind":"label","text":"A·T SPECIFIC","x":247,"y":716.5},
{"kind":"label","text":"DRUG FREE DNA","x":247,"y":803},
{"kind":"label","text":"DNA + DRUG","x":262,"y":866.5}
],
"underlines":[
{"x":67,"x2":212,"y":38.5},
{"x":386,"x2":533,"y":38.5}
]
},
"encoding":{
"x":{"field":"x","type":"quantitative","scale":{"domain":[0,643],"nice":false,"zero":false},"axis":null},
"y":{"field":"y","type":"quantitative","scale":{"domain":[0,938],"nice":false,"zero":false,"reverse":true},"axis":null}
},
"layer":[
{"data":{"name":"curves"},"transform":[{"filter":"datum.x < 330"}],
 "mark":{"type":"line","interpolate":"monotone","color":"#151515","strokeWidth":1.7,"clip":true},
 "encoding":{"detail":{"field":"curve","type":"nominal"}}},
{"data":{"name":"curves"},"transform":[{"filter":"datum.x >= 330"}],
 "mark":{"type":"line","interpolate":"monotone","color":"#222222","strokeWidth":1.1,"clip":true},
 "encoding":{"detail":{"field":"curve","type":"nominal"}}},
{"data":{"name":"underlines"},"mark":{"type":"rule","color":"#111111","strokeWidth":2},
 "encoding":{"x2":{"field":"x2"}}},
{"data":{"name":"labels"},"transform":[{"filter":"datum.kind == 'title'"}],
 "mark":{"type":"text","align":"left","baseline":"alphabetic","font":"DejaVu Sans Mono","fontWeight":"bold","fontSize":18.5,"color":"#111111"},
 "encoding":{"text":{"field":"text"}}},
{"data":{"name":"labels"},"transform":[{"filter":"datum.kind == 'panel'"}],
 "mark":{"type":"text","align":"left","baseline":"alphabetic","font":"DejaVu Sans Mono","fontWeight":"bold","fontSize":17,"color":"#111111"},
 "encoding":{"text":{"field":"text"}}},
{"data":{"name":"labels"},"transform":[{"filter":"datum.kind == 'label'"}],
 "mark":{"type":"text","align":"left","baseline":"alphabetic","font":"DejaVu Sans Mono","fontSize":16.5,"color":"#111111"},
 "encoding":{"text":{"field":"text"}}}
]
}
